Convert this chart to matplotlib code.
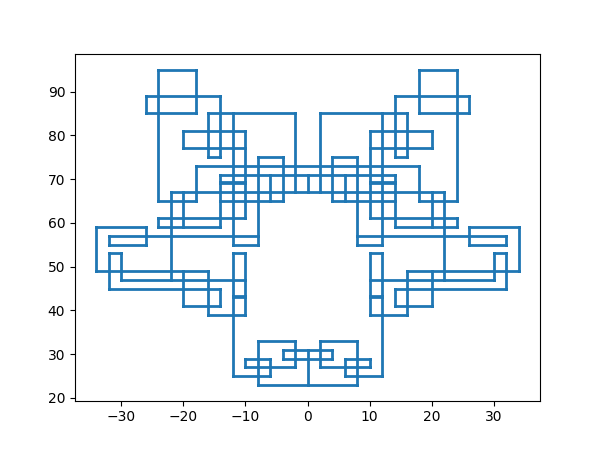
import numpy as np
import matplotlib
matplotlib.use("Agg")
import matplotlib.pyplot as plt

# Horizontal segments: y value, x start, x end
h_y  = [95, 89, 85, 85, 81, 77, 75, 75, 73, 71, 69, 69.4, 67, 65, 65, 61, 59, 59, 57, 55, 55, 53, 53, 49, 47, 45, 43, 43.35, 41, 39,
        33, 31, 29, 29, 27, 25, 23,
        95, 89, 85, 85, 81, 77, 75, 75, 69, 69.4, 65, 65, 61, 59, 59, 57, 55, 55, 53, 53, 49, 47, 45, 43, 43.35, 41, 39,
        33, 29, 27, 25]
h_x0 = [-24, -26, -26, -16, -20, -20, -16, -8, -18, -14, -14, -14, -22, -24, -14, -24, -24, -34, -32, -32, -12, -32, -12, -34, -30, -32, -12, -12, -20, -16,
        -8, -4, -10, -4, -10, -12, -8,
        18, 14, 18, 2, 10, 10, 14, 4, 10, 10, 18, 4, 10, 14, 26, 8, 26, 8, 30, 10, 16, 10, 14, 10, 10, 14, 10,
        2, 6, 2, 6]
h_x1 = [-18, -14, -18, -2, -10, -10, -14, -4, 18, 14, -10, -10, 22, -18, -4, -10, -14, -26, -8, -26, -8, -30, -10, -16, -10, -14, -10, -10, -14, -10,
        -2, 4, -6, 4, -2, -6, 8,
        24, 26, 26, 16, 20, 20, 16, 8, 14, 14, 24, 14, 24, 24, 34, 32, 32, 12, 32, 12, 34, 30, 32, 12, 12, 20, 16,
        8, 10, 10, 12]

# Vertical segments: x value, y start, y end
v_x  = [-26, -24, -18, -18, -16, -14, -14, -12, -20, -10, -8, -4, -6, -2, 0, -22, -20, -24, -26, -34, -32, -32, -30, -20, -16, -14, -12, -10,
        -10, -8, -6, -2, -4, 0,
        26, 24, 18, 18, 16, 14, 14, 12, 20, 10, 8, 4, 6, 2, 22, 20, 24, 26, 34, 32, 32, 30, 20, 16, 14, 12, 10,
        10, 8, 6, 2, 4]
v_y0 = [89, 95, 95, 73, 85, 89, 71, 85, 81, 81, 75, 75, 71, 85, 71, 67, 67, 61, 59, 59, 57, 53, 53, 49, 49, 45, 53, 53,
        29, 33, 29, 33, 31, 31,
        89, 95, 95, 73, 85, 89, 71, 85, 81, 81, 75, 75, 71, 85, 67, 67, 61, 59, 59, 57, 53, 53, 49, 49, 45, 53, 53,
        29, 33, 29, 33, 31]
v_y1 = [85, 65, 85, 65, 75, 75, 59, 55, 77, 61, 55, 65, 65, 67, 67, 47, 59, 59, 55, 49, 55, 45, 47, 41, 39, 41, 25, 39,
        27, 23, 25, 27, 29, 23,
        85, 65, 85, 65, 75, 75, 59, 55, 77, 61, 55, 65, 65, 67, 47, 59, 59, 55, 49, 55, 45, 47, 41, 39, 41, 25, 39,
        27, 23, 25, 27, 29]

xs, ys = [], []
for y, a, b in zip(h_y, h_x0, h_x1):
    xs += [a, b, np.nan]
    ys += [y, y, np.nan]
for x, a, b in zip(v_x, v_y0, v_y1):
    xs += [x, x, np.nan]
    ys += [a, b, np.nan]

fig, ax = plt.subplots(figsize=(6, 4.5), dpi=100)
ax.plot(xs, ys, color="C0", linewidth=2)
fig.savefig("out.png", dpi=100)
